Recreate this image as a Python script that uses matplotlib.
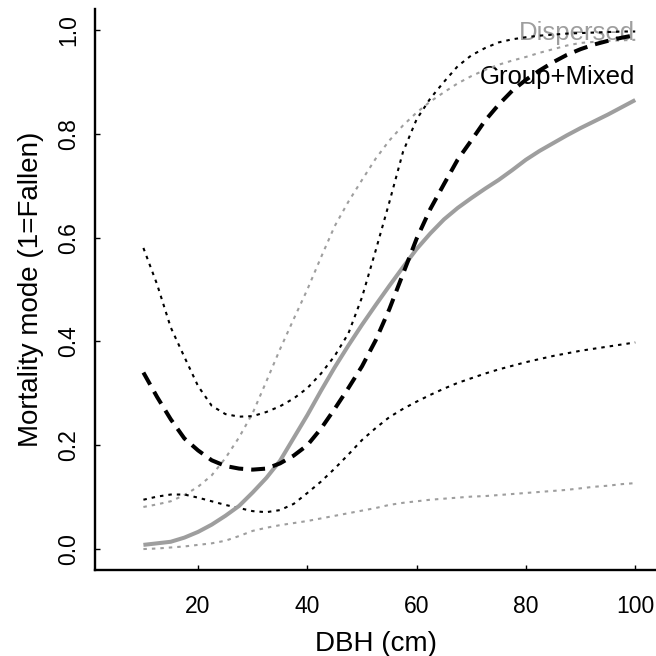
"""
Mortality mode vs DBH, fitted curves with confidence bands
"""
import matplotlib
matplotlib.use("Agg")
import matplotlib.pyplot as plt

plt.rcParams['font.family'] = ['Liberation Sans', 'DejaVu Sans']
plt.rcParams['lines.scale_dashes'] = False

# DBH grid (cm)
dbh = [10, 12.5, 15, 17.5, 20, 22.5, 25, 27.5, 30, 32.5, 35, 37.5, 40, 42.5,
       45, 47.5, 50, 52.5, 55, 57.5, 60, 62.5, 65, 67.5, 70, 72.5, 75, 77.5,
       80, 82.5, 85, 87.5, 90, 92.5, 95, 97.5, 100]

# Dispersed: fitted mean and band
disp_mean = [0.008, 0.011, 0.014, 0.022, 0.033, 0.047, 0.064, 0.083, 0.109,
             0.137, 0.170, 0.214, 0.258, 0.305, 0.350, 0.392, 0.432, 0.470,
             0.507, 0.543, 0.578, 0.608, 0.635, 0.657, 0.676, 0.694, 0.711,
             0.730, 0.750, 0.767, 0.782, 0.797, 0.811, 0.824, 0.837, 0.851,
             0.865]
disp_upper = [0.081, 0.086, 0.092, 0.104, 0.120, 0.142, 0.175, 0.215, 0.262,
              0.323, 0.385, 0.443, 0.500, 0.562, 0.622, 0.669, 0.711, 0.752,
              0.787, 0.816, 0.841, 0.862, 0.880, 0.897, 0.911, 0.923, 0.933,
              0.941, 0.948, 0.956, 0.963, 0.970, 0.975, 0.977, 0.979, 0.980,
              0.981]
disp_lower = [0.000, 0.001, 0.003, 0.005, 0.008, 0.011, 0.016, 0.025, 0.035,
              0.041, 0.046, 0.050, 0.054, 0.059, 0.064, 0.069, 0.074, 0.079,
              0.085, 0.089, 0.092, 0.095, 0.097, 0.099, 0.101, 0.102, 0.104,
              0.106, 0.108, 0.110, 0.112, 0.114, 0.117, 0.120, 0.122, 0.125,
              0.127]

# Group+Mixed: fitted mean and band
gm_mean = [0.340, 0.293, 0.250, 0.213, 0.190, 0.171, 0.160, 0.155, 0.153,
           0.155, 0.165, 0.180, 0.200, 0.232, 0.270, 0.310, 0.352, 0.402,
           0.462, 0.530, 0.598, 0.655, 0.703, 0.750, 0.787, 0.825, 0.856,
           0.883, 0.904, 0.922, 0.938, 0.952, 0.963, 0.972, 0.979, 0.985,
           0.990]
gm_upper = [0.580, 0.510, 0.427, 0.370, 0.314, 0.276, 0.260, 0.255, 0.256,
            0.264, 0.275, 0.290, 0.310, 0.338, 0.372, 0.415, 0.485, 0.575,
            0.668, 0.765, 0.828, 0.868, 0.900, 0.930, 0.951, 0.965, 0.976,
            0.982, 0.986, 0.989, 0.991, 0.993, 0.994, 0.995, 0.996, 0.997,
            0.997]
gm_lower = [0.095, 0.101, 0.105, 0.105, 0.099, 0.092, 0.085, 0.079, 0.073,
            0.071, 0.075, 0.087, 0.108, 0.130, 0.155, 0.182, 0.210, 0.233,
            0.254, 0.270, 0.284, 0.297, 0.309, 0.320, 0.329, 0.338, 0.346,
            0.353, 0.360, 0.366, 0.372, 0.377, 0.382, 0.386, 0.390, 0.394,
            0.398]

x_ticks = [20, 40, 60, 80, 100]
y_ticks = [0.0, 0.2, 0.4, 0.6, 0.8, 1.0]
y_labels = ['0.0', '0.2', '0.4', '0.6', '0.8', '1.0']

GREY = '#9e9e9e'

fig = plt.figure(figsize=(6.56, 6.56), dpi=100)
ax = fig.add_axes([0.1453, 0.1314, 0.8547, 0.8546])

# confidence bands (dotted)
dot = (0, (2.5, 3.6))
ax.plot(dbh, disp_upper, color=GREY, lw=1.5, linestyle=dot)
ax.plot(dbh, disp_lower, color=GREY, lw=1.5, linestyle=dot)
ax.plot(dbh, gm_upper, color='black', lw=1.5, linestyle=dot)
ax.plot(dbh, gm_lower, color='black', lw=1.5, linestyle=dot)

# fitted curves
ax.plot(dbh, disp_mean, color=GREY, lw=2.9, solid_capstyle='butt')
ax.plot(dbh, gm_mean, color='black', lw=2.9, linestyle=(0, (10, 5.8)),
        dash_capstyle='butt')

# legend as coloured text
ax.text(100, 0.981, 'Dispersed', color=GREY, fontsize=18.5,
        ha='right', va='baseline', zorder=1)
ax.text(100, 0.896, 'Group+Mixed', color='black', fontsize=18.5,
        ha='right', va='baseline', zorder=1)

ax.set_xlim(1.2, 103.8)
ax.set_ylim(-0.04, 1.04)

# L-shaped box
ax.spines['top'].set_visible(False)
ax.spines['right'].set_visible(False)
for s in ('left', 'bottom'):
    ax.spines[s].set_linewidth(1.7)

ax.set_xticks(x_ticks)
ax.set_yticks(y_ticks)
ax.set_yticklabels(y_labels)
ax.tick_params(direction='in', length=3.6, width=1.0, labelsize=16.5)
ax.tick_params(axis='x', pad=18)
ax.tick_params(axis='y', pad=14.8)
for t in ax.get_yticklabels():
    t.set_rotation(90)
    t.set_rotation_mode('anchor')
    t.set_ha('center')
    t.set_va('baseline')

ax.set_xlabel('DBH (cm)', fontsize=20)
ax.set_ylabel('Mortality mode (1=Fallen)', fontsize=20)
ax.xaxis.label.set_va('baseline')
ax.xaxis.set_label_coords(0.5, -0.1448)
ax.yaxis.label.set_va('baseline')
ax.yaxis.set_label_coords(-0.1031, 0.5)

fig.savefig('out.png', dpi=100)
